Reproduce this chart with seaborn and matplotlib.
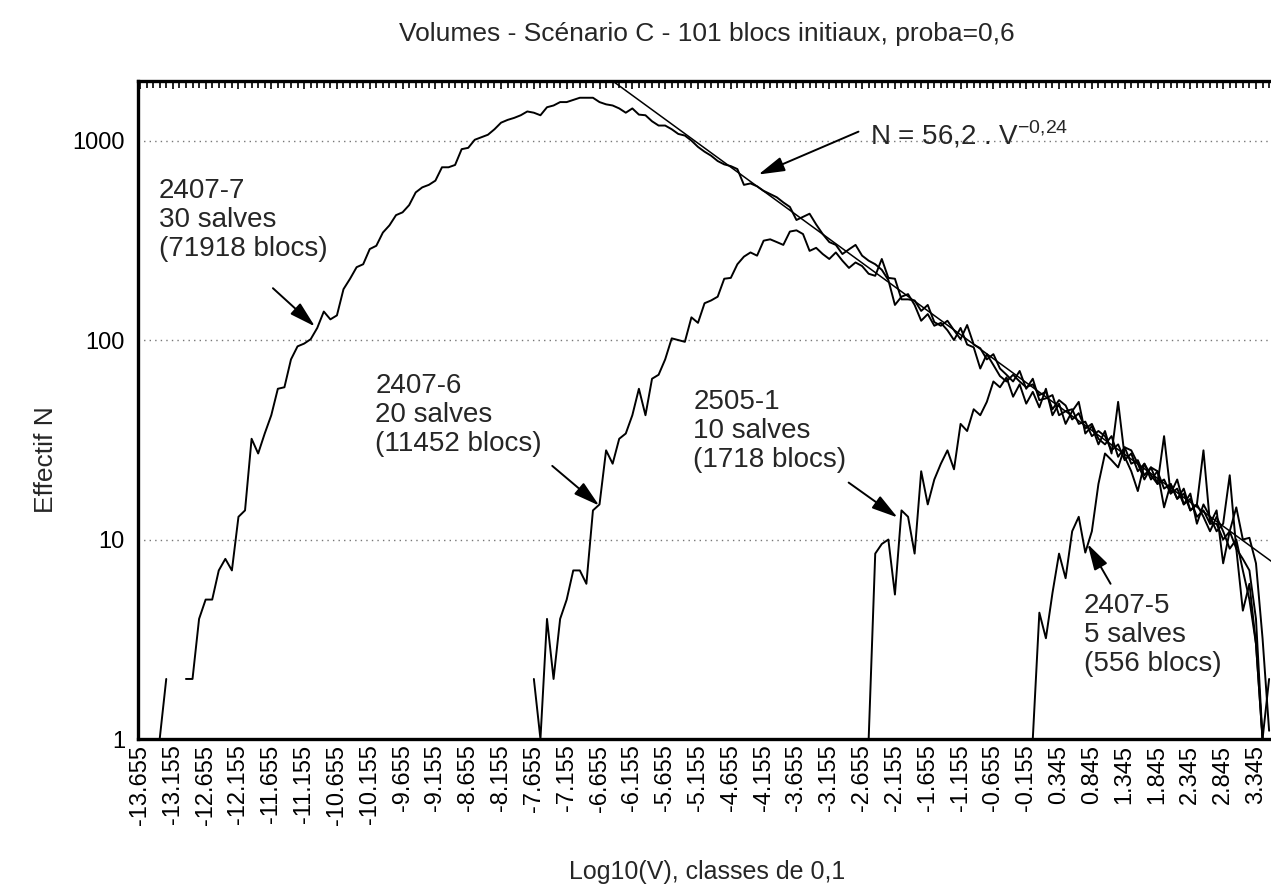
import numpy as np
import pandas as pd
import matplotlib
matplotlib.use("Agg")
import matplotlib.pyplot as plt
import seaborn as sns
from matplotlib.ticker import FixedLocator, FuncFormatter, NullFormatter, LogLocator

# classes de 0,1 en Log10(V)
STEP = 0.1

# 2407-7 : 30 salves (71918 blocs) -- deux morceaux (classes vides entre les deux)
a_head_start = -13.355
a_head = [1, 2]
a_start = -12.955
a_vals = [2, 2, 4, 5, 5, 7, 8, 7, 13, 14, 32, 27, 34, 42, 57, 58, 80, 93, 96, 101,
          115, 139, 127, 133, 180, 203, 232, 240, 286, 297, 346, 376, 423, 437, 475, 550,
          583, 600, 630, 735, 735, 755, 906, 920, 1010, 1040, 1070, 1140, 1230, 1270, 1300,
          1340, 1400, 1380, 1340, 1470, 1500, 1560, 1560, 1600, 1640, 1640, 1640, 1560, 1520,
          1500, 1450, 1380, 1450, 1350, 1340, 1250, 1190, 1190, 1140, 1080, 1060, 1000, 930,
          880, 840, 790, 760, 745, 720, 600, 610, 590, 560, 540, 520, 490, 465, 400, 415,
          430, 380, 340, 310, 300, 270, 285, 300, 265, 250, 240, 225, 200, 150, 165, 170,
          150, 125, 135, 118, 122, 112, 100, 115, 95, 92, 72, 85, 75, 66, 62, 67, 62, 58,
          60, 53, 55, 45, 50, 47, 40, 43, 36, 38, 32, 30, 33, 26, 29, 24, 25, 21, 23, 19,
          20, 17, 18, 15, 16, 13, 14, 12, 12, 10, 11, 9, 8, 7, 4, 1, 2]

# 2407-6 : 20 salves (11452 blocs)
b_start = -7.655
b_vals = [2, 1, 4, 2, 4, 5, 7, 7, 6, 14, 15, 28, 24, 32, 34, 42, 57, 42, 64, 67,
          80, 102, 100, 98, 130, 122, 153, 158, 165, 203, 205, 240, 262, 275, 265, 315,
          320, 310, 300, 350, 355, 340, 280, 290, 270, 255, 275, 250, 230, 245, 235, 215,
          210, 255, 205, 203, 160, 160, 158, 140, 150, 123, 118, 125, 112, 101, 119, 95,
          91, 80, 85, 72, 67, 62, 70, 57, 64, 50, 51, 53, 42, 44, 45, 38, 39, 33, 35, 33,
          28, 30, 25, 27, 22, 24, 20, 22, 18, 19, 16, 17, 14, 15, 13, 11, 13, 11, 9, 10,
          7, 5, 3, 1]

# 2505-1 : 10 salves (1718 blocs)
c_start = -2.555
c_vals = [1, 8.5, 9.5, 10, 5.3, 14, 13, 8.5, 22, 15, 20, 24, 28, 22.5, 38, 35, 45, 42,
          49, 62, 58, 65, 52, 60, 48, 55, 46, 57, 42, 48, 38, 44, 49, 34, 37, 30, 35, 27,
          49, 26, 22, 17.5, 24, 21, 19, 33, 17, 20, 15, 17, 12, 15, 13, 11, 12, 21, 9,
          4.4, 6, 3, 1]

# 2407-5 : 5 salves (556 blocs)
d_start = -0.055
d_vals = [1, 4.3, 3.2, 5.4, 8.5, 6.4, 11, 13, 8.6, 11, 19, 27, 25, 23, 29, 28, 24, 20,
          23, 22, 14.5, 19, 16, 18, 14, 15, 28, 12, 14, 7.6, 11, 14.5, 10, 10.2, 7.6, 3.2, 1.1]

# ajustement N = 56,2 . V^-0,24 (trace entre deux bornes)
fit_a = 56.2
fit_b = -0.24
fit_x = [-6.45, 3.65]

x_ticks = [round(-13.655 + 0.5 * i, 3) for i in range(35)]
y_ticks = [1, 10, 100, 1000]


def series(start, vals):
    x = np.round(start + STEP * np.arange(len(vals)), 3)
    return pd.DataFrame({"x": x, "N": vals})


sns.set_style("white")
plt.rcParams["font.family"] = ["Liberation Sans", "DejaVu Sans"]

fig = plt.figure(figsize=(12.71, 8.91), dpi=100)
W, H = 1271, 891
ax = fig.add_axes([137.5 / W, 1 - 739 / H, (1276 - 137.5) / W, (739 - 81) / H])
ax.set_yscale("log")

line_kw = dict(color="black", linewidth=1.4, sort=False, estimator=None)
for start, vals in [(a_head_start, a_head), (a_start, a_vals), (b_start, b_vals),
                    (c_start, c_vals), (d_start, d_vals)]:
    df = series(start, vals)
    sns.lineplot(data=df, x="x", y="N", ax=ax, **line_kw)

fit_df = pd.DataFrame({"x": fit_x, "N": [fit_a * 10 ** (fit_b * v) for v in fit_x]})
sns.lineplot(data=fit_df, x="x", y="N", ax=ax, color="black", linewidth=1.1, sort=False, estimator=None)

ax.set_xlim(-13.693, 3.65)
ax.set_ylim(1, 1990)

# axes / ticks
ax.xaxis.set_major_locator(FixedLocator(x_ticks))
ax.xaxis.set_minor_locator(FixedLocator([round(-13.655 + 0.1 * i, 3) for i in range(175)]))
ax.set_xticklabels([f"{t:.3f}" for t in x_ticks], rotation=90)
ax.yaxis.set_major_locator(FixedLocator(y_ticks))
ax.yaxis.set_major_formatter(FuncFormatter(lambda v, p: f"{int(v)}"))
ax.yaxis.set_minor_locator(LogLocator(base=10, subs=np.arange(2, 10)))
ax.yaxis.set_minor_formatter(NullFormatter())
ax.tick_params(axis="both", which="both", direction="in", top=True, right=False,
               colors="black", width=1.2)
ax.tick_params(axis="both", which="major", length=6, labelsize=17)
ax.tick_params(axis="x", which="major", pad=4)
ax.tick_params(axis="y", which="major", pad=9)
ax.tick_params(axis="both", which="minor", length=5)

for s in ["left", "bottom", "top"]:
    ax.spines[s].set_color("black")
    ax.spines[s].set_linewidth(2.4)
ax.spines["right"].set_visible(False)

ax.yaxis.grid(True, which="major", color="#777777", linestyle=(0, (1, 3)), linewidth=1)
ax.xaxis.grid(False)

ax.set_xlabel("Log10(V), classes de 0,1", fontsize=18)
ax.set_ylabel("Effectif N", fontsize=19)
ax.xaxis.set_label_coords((707 - 137.5) / 1138, (739 - 860) / 658)
ax.yaxis.set_label_coords((58 - 137.5) / 1138, (739 - 460) / 658)

fig.text(707 / W, 1 - 34 / H, "Volumes - Scénario C - 101 blocs initiaux, proba=0,6",
         ha="center", va="center", fontsize=19)

# annotations
arrow = dict(arrowstyle="-|>,head_length=1.6,head_width=0.45", color="black", lw=1.4,
             shrinkA=0, shrinkB=0)
txt = dict(fontsize=20, ha="left", va="top", linespacing=1.15)

ax.text(-13.365, 650, "2407-7\n30 salves\n(71918 blocs)", **txt)
ax.annotate("", xy=(-10.99, 117), xytext=(-11.63, 182), arrowprops=arrow)

ax.text(-10.07, 68, "2407-6\n20 salves\n(11452 blocs)", **txt)
ax.annotate("", xy=(-6.66, 14.8), xytext=(-7.375, 23.4), arrowprops=arrow)

ax.text(-5.225, 57, "2505-1\n10 salves\n(1718 blocs)", **txt)
ax.annotate("", xy=(-2.115, 12.9), xytext=(-2.86, 19.3), arrowprops=arrow)

ax.text(0.72, 5.4, "2407-5\n5 salves\n(556 blocs)", **txt)
ax.annotate("", xy=(0.78, 9.5), xytext=(1.13, 6.0), arrowprops=arrow)

ax.text(-2.53, 955, r"N = 56,2 . V$^{\mathregular{-0{,}24}}$", fontsize=20, ha="left", va="baseline")
ax.annotate("", xy=(-4.234, 676), xytext=(-2.71, 1109), arrowprops=arrow)

fig.savefig("out.png", dpi=100)
